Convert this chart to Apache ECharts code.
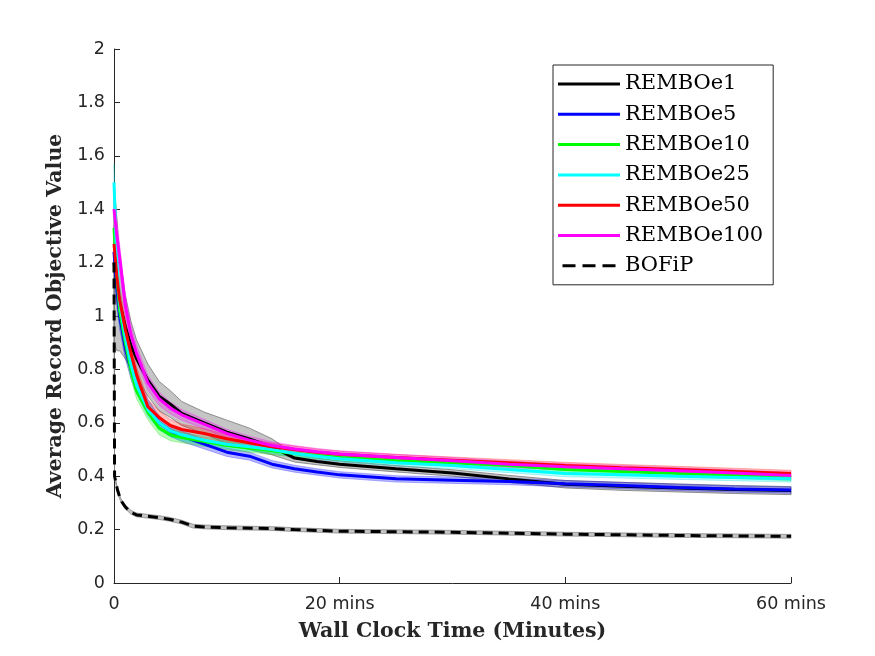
<!DOCTYPE html>
<html lang="en">
    <head>
        <meta charset="utf-8">
        <title>REMBO vs BOFiP</title>
        <script src="https://cdn.jsdelivr.net/npm/echarts@6.0.0/dist/echarts.min.js"></script>
        <style>
            body { margin: 0; background: #fff; }
        </style>
    </head>
    <body>
        <div id="main" style="width: 875px;height: 656px;"></div>

        <script type="text/javascript">

            // minutes
            const times = [0, 0.25, 0.5, 1, 1.5, 2, 3, 4, 5, 6, 8, 10, 12, 14, 16, 18, 20, 25, 30, 35, 40, 45, 50, 55, 60];

            const rembo1   = [1.20, 1.12, 1.05, 0.96, 0.89, 0.84, 0.76, 0.70, 0.67, 0.635, 0.60, 0.565, 0.54, 0.51, 0.468, 0.455, 0.445, 0.428, 0.412, 0.39, 0.37, 0.362, 0.356, 0.35, 0.346];
            const rembo5   = [1.24, 1.10, 1.00, 0.88, 0.80, 0.74, 0.66, 0.60, 0.57, 0.55, 0.52, 0.49, 0.475, 0.445, 0.428, 0.416, 0.405, 0.39, 0.385, 0.38, 0.372, 0.365, 0.358, 0.352, 0.348];
            const rembo10  = [1.33, 1.15, 1.02, 0.90, 0.80, 0.72, 0.64, 0.58, 0.555, 0.545, 0.53, 0.515, 0.505, 0.495, 0.485, 0.478, 0.47, 0.458, 0.45, 0.44, 0.425, 0.418, 0.41, 0.403, 0.395];
            const rembo25  = [1.50, 1.20, 1.05, 0.92, 0.82, 0.74, 0.65, 0.60, 0.57, 0.555, 0.535, 0.52, 0.51, 0.50, 0.485, 0.475, 0.465, 0.45, 0.44, 0.425, 0.41, 0.405, 0.40, 0.395, 0.39];
            const rembo50  = [1.27, 1.15, 1.06, 0.95, 0.86, 0.78, 0.66, 0.62, 0.59, 0.575, 0.56, 0.54, 0.525, 0.51, 0.50, 0.49, 0.482, 0.47, 0.46, 0.45, 0.44, 0.432, 0.425, 0.418, 0.41];
            const rembo100 = [1.40, 1.30, 1.22, 1.04, 0.93, 0.86, 0.75, 0.69, 0.655, 0.63, 0.595, 0.56, 0.535, 0.515, 0.502, 0.492, 0.483, 0.47, 0.458, 0.445, 0.435, 0.428, 0.42, 0.412, 0.403];

            // half width of the shaded bands
            const spread1      = [0.30, 0.25, 0.18, 0.12, 0.09, 0.07, 0.06, 0.055, 0.05, 0.045, 0.04, 0.045, 0.04, 0.03, 0.015, 0.012, 0.012, 0.012, 0.012, 0.013, 0.014, 0.015, 0.015, 0.015, 0.015];
            const colourSpread = [0.07, 0.06, 0.05, 0.04, 0.035, 0.03, 0.028, 0.025, 0.022, 0.02, 0.018, 0.016, 0.015, 0.014, 0.013, 0.012, 0.012, 0.012, 0.012, 0.012, 0.012, 0.012, 0.012, 0.012, 0.012];

            const bofipTimes = [0, 0.05, 0.3, 0.6, 1, 1.5, 2, 3, 4, 5, 6, 7, 8, 10, 14, 16, 20, 30, 40, 50, 60];
            const bofip      = [1.2, 0.4, 0.35, 0.31, 0.285, 0.265, 0.255, 0.25, 0.245, 0.238, 0.228, 0.213, 0.21, 0.207, 0.204, 0.2, 0.194, 0.19, 0.183, 0.178, 0.175];
            const bofipSpread = 0.007;

            const xTicks = [0, 20, 40, 60];

            let myChart = echarts.init(document.getElementById('main'));

            let lines = [
                { name: 'REMBOe1',   x: times, y: rembo1,   s: spread1,      color: '#000000', band: 'rgba(140,140,140,0.5)', edge: '#777777' },
                { name: 'REMBOe5',   x: times, y: rembo5,   s: colourSpread, color: '#0000ff', band: 'rgba(0,0,255,0.28)',    edge: 'rgba(0,0,255,0.35)' },
                { name: 'REMBOe10',  x: times, y: rembo10,  s: colourSpread, color: '#00ff00', band: 'rgba(0,255,0,0.28)',    edge: 'rgba(0,200,0,0.35)' },
                { name: 'REMBOe25',  x: times, y: rembo25,  s: colourSpread, color: '#00ffff', band: 'rgba(0,255,255,0.28)',  edge: 'rgba(0,200,200,0.35)' },
                { name: 'REMBOe50',  x: times, y: rembo50,  s: colourSpread, color: '#ff0000', band: 'rgba(255,0,0,0.25)',    edge: 'rgba(255,0,0,0.35)' },
                { name: 'REMBOe100', x: times, y: rembo100, s: colourSpread, color: '#ff00ff', band: 'rgba(255,0,255,0.28)',  edge: 'rgba(255,0,255,0.35)' },
                { name: 'BOFiP',     x: bofipTimes, y: bofip, s: bofip.map(() => bofipSpread), color: '#000000', band: 'rgba(190,190,190,0.9)', edge: '#888888', dashed: true }
            ];

            let series = [];

            // shaded bands: one polygon per run, mapped through the axes
            lines.forEach((l, i) => {
                series.push({
                    name: '_band' + i, type: 'custom', silent: true,
                    coordinateSystem: 'cartesian2d',
                    data: [[l.x[0], l.y[0]]],
                    renderItem: function (params, api) {
                        let upper = l.x.map((t, k) => api.coord([t, l.y[k] + l.s[k]]));
                        let lower = l.x.map((t, k) => api.coord([t, l.y[k] - l.s[k]])).reverse();
                        return {
                            type: 'polygon',
                            shape: { points: upper.concat(lower) },
                            style: { fill: l.band, stroke: l.edge, lineWidth: 0.8 }
                        };
                    },
                    z: 1
                });
            });

            lines.forEach((l) => {
                series.push({
                    name: l.name, type: 'line', symbol: 'none',
                    data: l.x.map((t, k) => [t, l.y[k]]),
                    color: l.color,
                    lineStyle: { width: 3, color: l.color, type: l.dashed ? [10, 6] : 'solid' },
                    z: 3
                });
            });

            let options = {
                animation: false,
                backgroundColor: '#ffffff',
                grid: { left: 114, right: 84, top: 49, bottom: 73, containLabel: false },
                legend: {
                    data: lines.map(l => ({
                        name: l.name,
                        icon: l.dashed ? 'path://M0,0h13v3h-13z M20,0h13v3h-13z M40,0h13v3h-13z' : 'rect'
                    })),
                    orient: 'vertical',
                    left: 553, top: 65,
                    padding: [6, 10, 6, 5],
                    itemWidth: 62, itemHeight: 3, itemGap: 4.3,
                    backgroundColor: '#ffffff',
                    borderColor: '#262626', borderWidth: 1, borderRadius: 0,
                    textStyle: { fontFamily: 'DejaVu Serif', fontSize: 21, color: '#000', lineHeight: 26 }
                },
                xAxis: {
                    type: 'value', min: 0, max: 60, interval: 20,
                    name: 'Wall Clock Time (Minutes)', nameLocation: 'middle', nameGap: 38,
                    nameTextStyle: { fontFamily: 'DejaVu Serif', fontWeight: 'bold', fontSize: 20.5, color: '#262626' },
                    axisLine: { lineStyle: { color: '#262626', width: 1 } },
                    axisTick: { inside: true, length: 6, lineStyle: { color: '#262626' } },
                    splitLine: { show: false },
                    axisLabel: {
                        fontFamily: 'DejaVu Sans', fontSize: 17.5, color: '#262626', margin: 12,
                        formatter: v => xTicks.indexOf(v) === 0 ? '0' : v + ' mins'
                    }
                },
                yAxis: {
                    type: 'value', min: 0, max: 2, interval: 0.2,
                    name: 'Average Record Objective Value', nameLocation: 'middle', nameGap: 48,
                    nameTextStyle: { fontFamily: 'DejaVu Serif', fontWeight: 'bold', fontSize: 20.5, color: '#262626' },
                    axisLine: { show: true, lineStyle: { color: '#262626', width: 1 } },
                    axisTick: { show: true, inside: true, length: 6, lineStyle: { color: '#262626' } },
                    splitLine: { show: false },
                    axisLabel: { fontFamily: 'DejaVu Sans', fontSize: 17.5, color: '#262626', margin: 9 }
                },
                series: series
            };

            myChart.setOption(options);

        </script>
    </body>
</html>
